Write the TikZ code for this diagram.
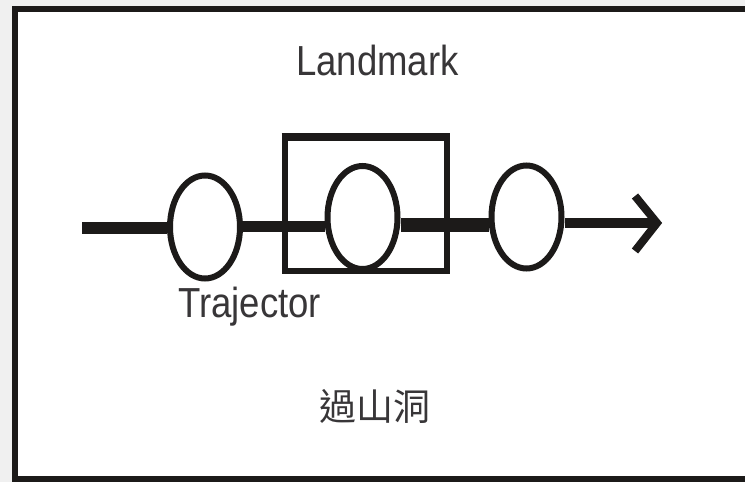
\documentclass[tikz,border=0pt]{standalone}
\usepackage{fontspec}
\setmainfont{Liberation Sans}
\newfontfamily\narrowfont[FakeStretch=0.87]{Liberation Sans}
\newfontfamily\cjkfont{Noto Sans CJK TC}
\usetikzlibrary{shapes.geometric,calc}
\definecolor{ink}{HTML}{1C1A19}
\definecolor{txt}{HTML}{383638}
\tikzset{
  ring/.style={ellipse, draw=ink, line width=6pt, fill=white, inner sep=0pt,
               minimum width=70pt, minimum height=103pt},
  track/.style={draw=ink, line cap=butt},
  lbl/.style={text=txt, inner sep=0pt, font=\narrowfont\fontsize{42}{42}\selectfont},
}
\begin{document}
\begin{tikzpicture}[x=1pt,y=-1pt]
\useasboundingbox (0,0) rectangle (745,482);
\clip (0,0) rectangle (745,482);
\fill[gray!12] (0,0) rectangle (745,482);
% outer frame (right side runs off the picture)
\draw[ink, line width=6pt, fill=white] (15,9) rectangle (775,478.5);
% landmark box
\node[draw=ink, line width=6pt, inner sep=0pt, minimum width=162pt, minimum height=135pt] (box) at (365.5,203.5) {};
\draw[ink, line width=8pt] ([yshift=-4pt]box.north west) -- ([yshift=-4pt]box.north east);
% trajector positions
\node[ring] (c1) at (205,227) {};
\node[ring] (c2) at (362.5,217.5) {};
\node[ring] (c3) at (526.5,217) {};
% path coordinates
\coordinate (s) at (82,228);
\coordinate (y1) at (0,226);
\coordinate (y2) at (0,225);
\coordinate (y3) at (0,223);
\coordinate (tip) at (657,223);
\draw[track, line width=12pt] (s) -- (s -| c1.west);
\draw[track, line width=11pt] (c1.east |- y1) -- (c2.west |- y1);
\draw[track, line width=14pt] (c2.east |- y2) -- (c3.west |- y2);
\draw[track, line width=10pt] (c3.east |- y3) -- (tip);
\draw[ink, line width=8pt, line join=miter] ($(tip)+(-22,-27)$) -- (tip) -- ($(tip)+(-22,28)$);
% labels
\node[lbl, anchor=base] (lm) at (377.5,75) {Landmark};
\node[lbl, anchor=base west] (tj) at (178,317) {Trajector};
\node[text=txt, inner sep=0pt, anchor=base, font=\cjkfont\fontsize{37}{37}\selectfont] (zh) at (375,420) {過山洞};
\end{tikzpicture}
\end{document}
